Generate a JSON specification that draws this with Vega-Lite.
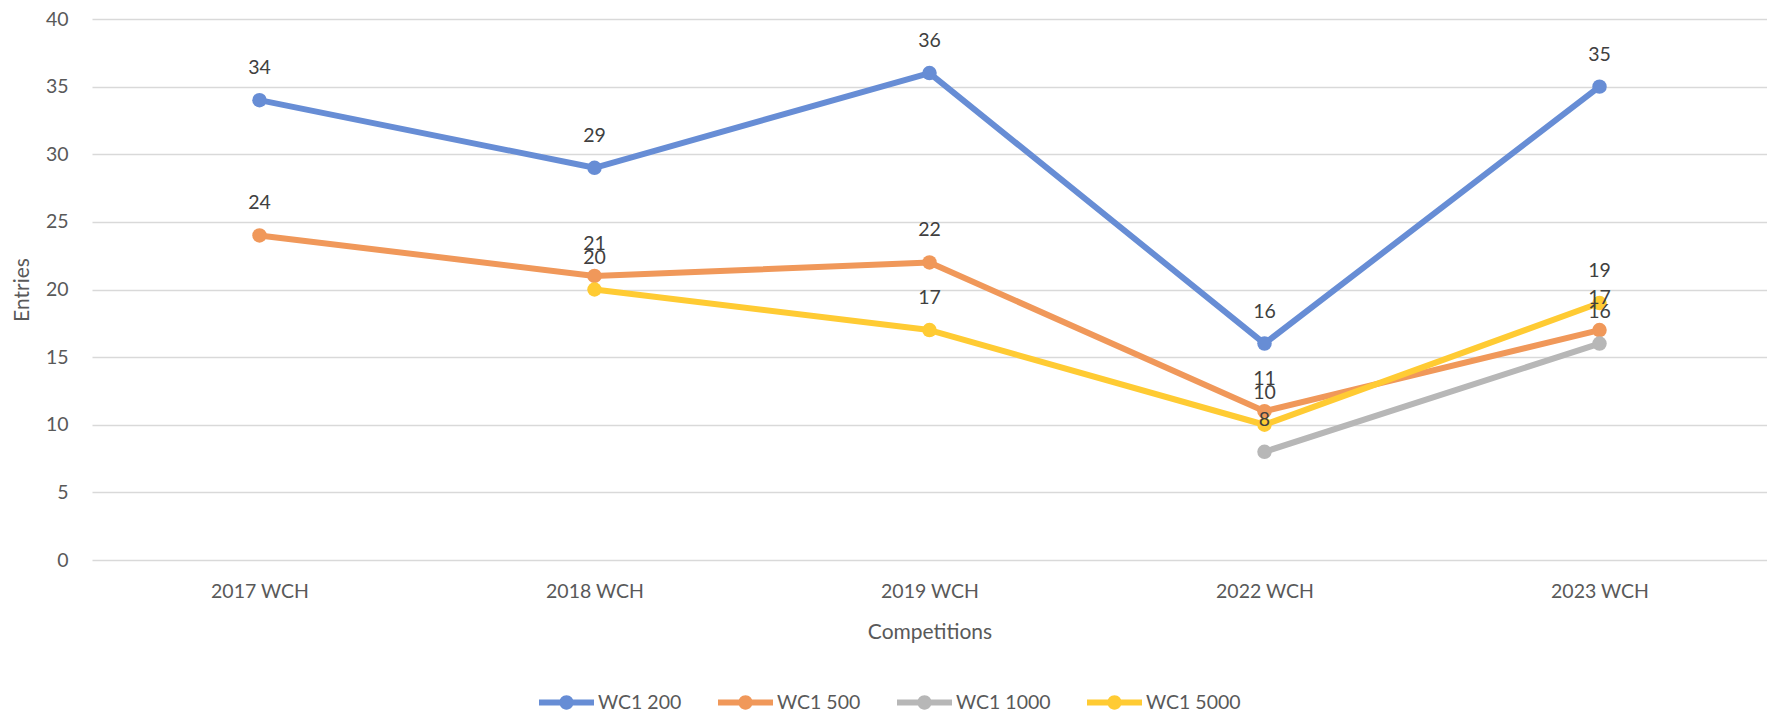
{
  "$schema": "https://vega.github.io/schema/vega-lite/v6.json",
  "autosize": {"type": "none"},
  "padding": {"left": 92, "top": 19, "right": 0, "bottom": 152},
  "width": 1675,
  "height": 541,
  "background": "white",
  "config": {
    "font": "Lato",
    "view": {"stroke": null}
  },
  "data": {
    "values": [
      {"competition": "2017 WCH", "series": "WC1 200", "entries": 34},
      {"competition": "2018 WCH", "series": "WC1 200", "entries": 29},
      {"competition": "2019 WCH", "series": "WC1 200", "entries": 36},
      {"competition": "2022 WCH", "series": "WC1 200", "entries": 16},
      {"competition": "2023 WCH", "series": "WC1 200", "entries": 35},
      {"competition": "2017 WCH", "series": "WC1 500", "entries": 24},
      {"competition": "2018 WCH", "series": "WC1 500", "entries": 21},
      {"competition": "2019 WCH", "series": "WC1 500", "entries": 22},
      {"competition": "2022 WCH", "series": "WC1 500", "entries": 11},
      {"competition": "2023 WCH", "series": "WC1 500", "entries": 17},
      {"competition": "2022 WCH", "series": "WC1 1000", "entries": 8},
      {"competition": "2023 WCH", "series": "WC1 1000", "entries": 16},
      {"competition": "2018 WCH", "series": "WC1 5000", "entries": 20},
      {"competition": "2019 WCH", "series": "WC1 5000", "entries": 17},
      {"competition": "2022 WCH", "series": "WC1 5000", "entries": 10},
      {"competition": "2023 WCH", "series": "WC1 5000", "entries": 19}
    ]
  },
  "encoding": {
    "x": {
      "field": "competition",
      "type": "ordinal",
      "sort": ["2017 WCH", "2018 WCH", "2019 WCH", "2022 WCH", "2023 WCH"],
      "scale": {"type": "point", "padding": 0.5},
      "axis": {
        "title": "Competitions",
        "titleFontSize": 21,
        "titleFontWeight": "normal",
        "titleColor": "#595959",
        "titleY": 72,
        "titleBaseline": "middle",
        "labelAngle": 0,
        "labelFontSize": 19.5,
        "labelColor": "#595959",
        "labelPadding": 31,
        "labelBaseline": "middle",
        "ticks": false,
        "domain": false,
        "grid": false
      }
    },
    "y": {
      "field": "entries",
      "type": "quantitative",
      "scale": {"domain": [0, 40], "nice": false},
      "axis": {
        "title": "Entries",
        "titleFontSize": 21,
        "titleFontWeight": "normal",
        "titleColor": "#595959",
        "titleX": -70,
        "titleBaseline": "middle",
        "values": [0, 5, 10, 15, 20, 25, 30, 35, 40],
        "labelFontSize": 19.5,
        "labelColor": "#595959",
        "labelPadding": 24,
        "ticks": false,
        "domain": false,
        "grid": true,
        "gridColor": "#d9d9d9",
        "gridWidth": 1.5
      }
    },
    "color": {
      "field": "series",
      "type": "nominal",
      "sort": ["WC1 200", "WC1 500", "WC1 1000", "WC1 5000"],
      "scale": {
        "domain": ["WC1 200", "WC1 500", "WC1 1000", "WC1 5000"],
        "range": ["#678DD5", "#F0985A", "#B7B7B7", "#FFCB33"]
      },
      "legend": {
        "title": null,
        "orient": "none",
        "direction": "horizontal",
        "legendX": 447,
        "legendY": 656,
        "symbolType": "M-1,-0.11 L1,-0.11 L1,0.11 L-1,0.11 Z M0.26,0 A0.26,0.26 0 1,1 -0.26,0 A0.26,0.26 0 1,1 0.26,0 Z",
        "symbolSize": 3025,
        "symbolStrokeWidth": 0,
        "labelFontSize": 19.5,
        "labelColor": "#595959",
        "labelOffset": 4,
        "columnPadding": 36,
        "encode": {
          "symbols": {
            "update": {
              "fill": {"scale": "color", "field": "value"},
              "fillOpacity": {"value": 1},
              "strokeWidth": {"value": 0}
            }
          }
        }
      }
    }
  },
  "layer": [
    {
      "mark": {"type": "line", "strokeWidth": 6, "strokeCap": "round", "strokeJoin": "round"},
      "encoding": {"detail": {"field": "series"}}
    },
    {
      "mark": {"type": "point", "filled": true, "size": 210, "opacity": 1}
    },
    {
      "mark": {"type": "text", "dy": -32, "fontSize": 19.5, "color": "#404040", "baseline": "middle"},
      "encoding": {
        "text": {"field": "entries", "type": "quantitative"},
        "color": {"value": "#404040"}
      }
    }
  ]
}
